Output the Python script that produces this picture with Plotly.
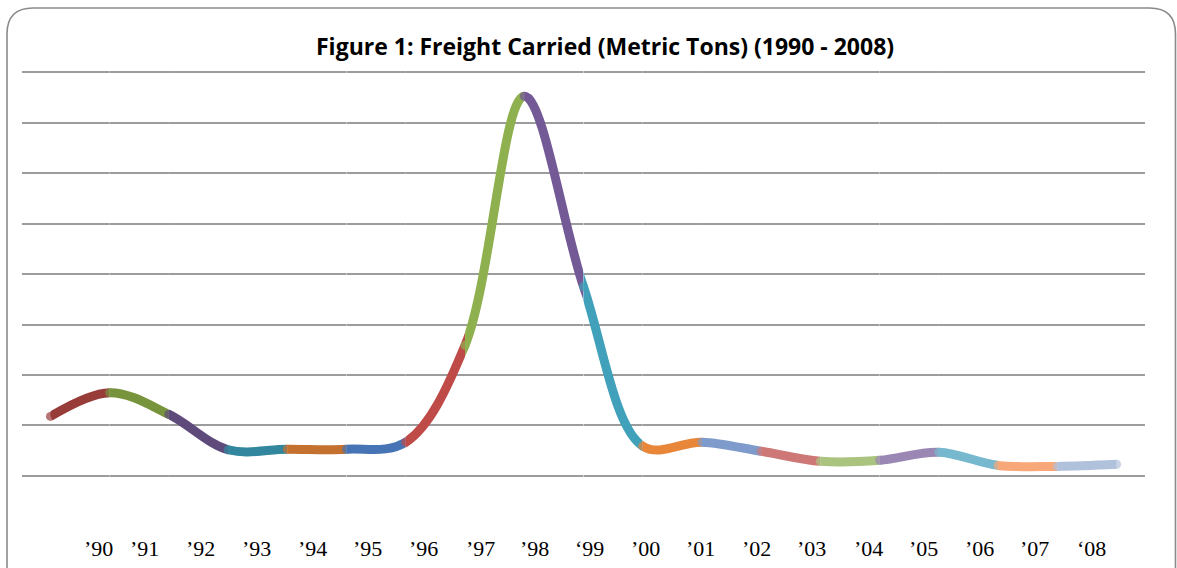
import plotly.graph_objects as go

# ---------------- data ----------------
YEARS = [1990, 1991, 1992, 1993, 1994, 1995, 1996, 1997, 1998, 1999,
         2000, 2001, 2002, 2003, 2004, 2005, 2006, 2007, 2008]
YEAR_LABELS = ["\u201990", "\u201991", "\u201992", "\u201993", "\u201994", "\u201995",
               "\u201996", "\u201997", "\u201998", "\u201899", "\u201900", "\u201901",
               "\u201902", "\u201903", "\u201904", "\u201905", "\u201906", "\u201907",
               "\u201808"]
FREIGHT = [1.18, 1.65, 1.22, 0.52, 0.53, 0.53, 0.67, 2.59, 7.52, 3.75,
           0.59, 0.67, 0.49, 0.29, 0.31, 0.47, 0.21, 0.19, 0.23]
SEG_COLORS = ["#983C3A", "#77933C", "#5F4A7C", "#32869D", "#C4702F", "#4674B4",
              "#BE4B48", "#8FB04F", "#735995", "#41A0BA", "#E8873A", "#7E9BCC",
              "#CD7876", "#AAC47F", "#9B87B3", "#76B9CF", "#F8A878", "#B0C1DC"]
TITLE = "Figure 1: Freight Carried (Metric Tons) (1990 - 2008)"

# ---------------- layout constants ----------------
W, H = 1177, 568
ML, MR, MT, MB = 22, 32, 70, 90
X_RANGE = [-0.48, 18.48]
Y_RANGE = [-0.04, 8.04]
LW = 9
LABEL_PX = [98, 144, 200, 256, 312, 367, 423, 480, 534, 589, 645, 700,
            756, 811, 868, 923, 979, 1034, 1091]
LABEL_PY = 548
PW, PH = W - ML - MR, H - MT - MB


def px_x(px):
    return (px - ML) / PW


def px_y(py):
    return (H - MB - py) / PH


fig = go.Figure()
# main subplot (carries the gridlines)
fig.add_trace(go.Scatter(x=[], y=[], xaxis="x", yaxis="y", showlegend=False,
                         hoverinfo="skip"))

idx = list(range(len(YEARS)))
span = X_RANGE[1] - X_RANGE[0]
n = len(YEARS)
axes_layout = {}
for i in range(n - 1):
    lo, hi = max(0, i - 1), min(n, i + 3)
    xs, ys = idx[lo:hi], FREIGHT[lo:hi]
    sizes = [0] * len(xs)
    sizes[i - lo] = LW
    if i == n - 2:
        sizes[-1] = LW
    k = i + 2
    c = SEG_COLORS[i]
    fig.add_trace(go.Scatter(
        x=xs, y=ys, mode="lines+markers", xaxis=f"x{k}", yaxis="y",
        line=dict(color=c, width=LW, shape="spline", smoothing=1, simplify=False),
        marker=dict(size=sizes, color=c, line=dict(width=0)),
        cliponaxis=False, hoverinfo="skip", showlegend=False))
    axes_layout[f"xaxis{k}"] = dict(
        domain=[(i - X_RANGE[0]) / span, (i + 1 - X_RANGE[0]) / span],
        range=[i, i + 1], visible=False, anchor="y", fixedrange=True,
        showgrid=False, zeroline=False)

annotations = [dict(text=f"<b>{TITLE}</b>", x=px_x(605), y=px_y(46),
                    xref="paper", yref="paper", showarrow=False,
                    xanchor="center", yanchor="middle",
                    font=dict(family="Open Sans", size=23, color="#000000"))]
for lab, lx in zip(YEAR_LABELS, LABEL_PX):
    annotations.append(dict(text=lab, x=px_x(lx), y=px_y(LABEL_PY), xref="paper",
                            yref="paper", showarrow=False, xanchor="center",
                            yanchor="middle",
                            font=dict(family="Liberation Serif", size=22,
                                      color="#000000")))

# rounded border
L, T, R, B, r = 7, 8, 1175.5, 620, 26
bx = lambda v: px_x(v)
by = lambda v: px_y(v)
path = (f"M {bx(L)},{by(B)} L {bx(L)},{by(T + r)} "
        f"Q {bx(L)},{by(T)} {bx(L + r)},{by(T)} "
        f"L {bx(R - r)},{by(T)} Q {bx(R)},{by(T)} {bx(R)},{by(T + r)} "
        f"L {bx(R)},{by(B)}")
shapes = [dict(type="path", path=path, xref="paper", yref="paper",
               line=dict(color="#8A8A8A", width=1.6), layer="above")]

fig.update_layout(
    width=W, height=H, margin=dict(l=ML, r=MR, t=MT, b=MB, pad=0),
    paper_bgcolor="white", plot_bgcolor="white", showlegend=False,
    xaxis=dict(range=X_RANGE, visible=False, fixedrange=True, showgrid=False,
               zeroline=False),
    yaxis=dict(range=Y_RANGE, dtick=1, tick0=0, showgrid=True,
               gridcolor="#9C9C9C", gridwidth=1.6, zeroline=False,
               showticklabels=False, ticks="", showline=False, fixedrange=True),
    annotations=annotations, shapes=shapes, hovermode=False,
    **axes_layout)

fig.write_html("out.html", config={"displayModeBar": False},
               post_script="document.body.style.margin='0';")
